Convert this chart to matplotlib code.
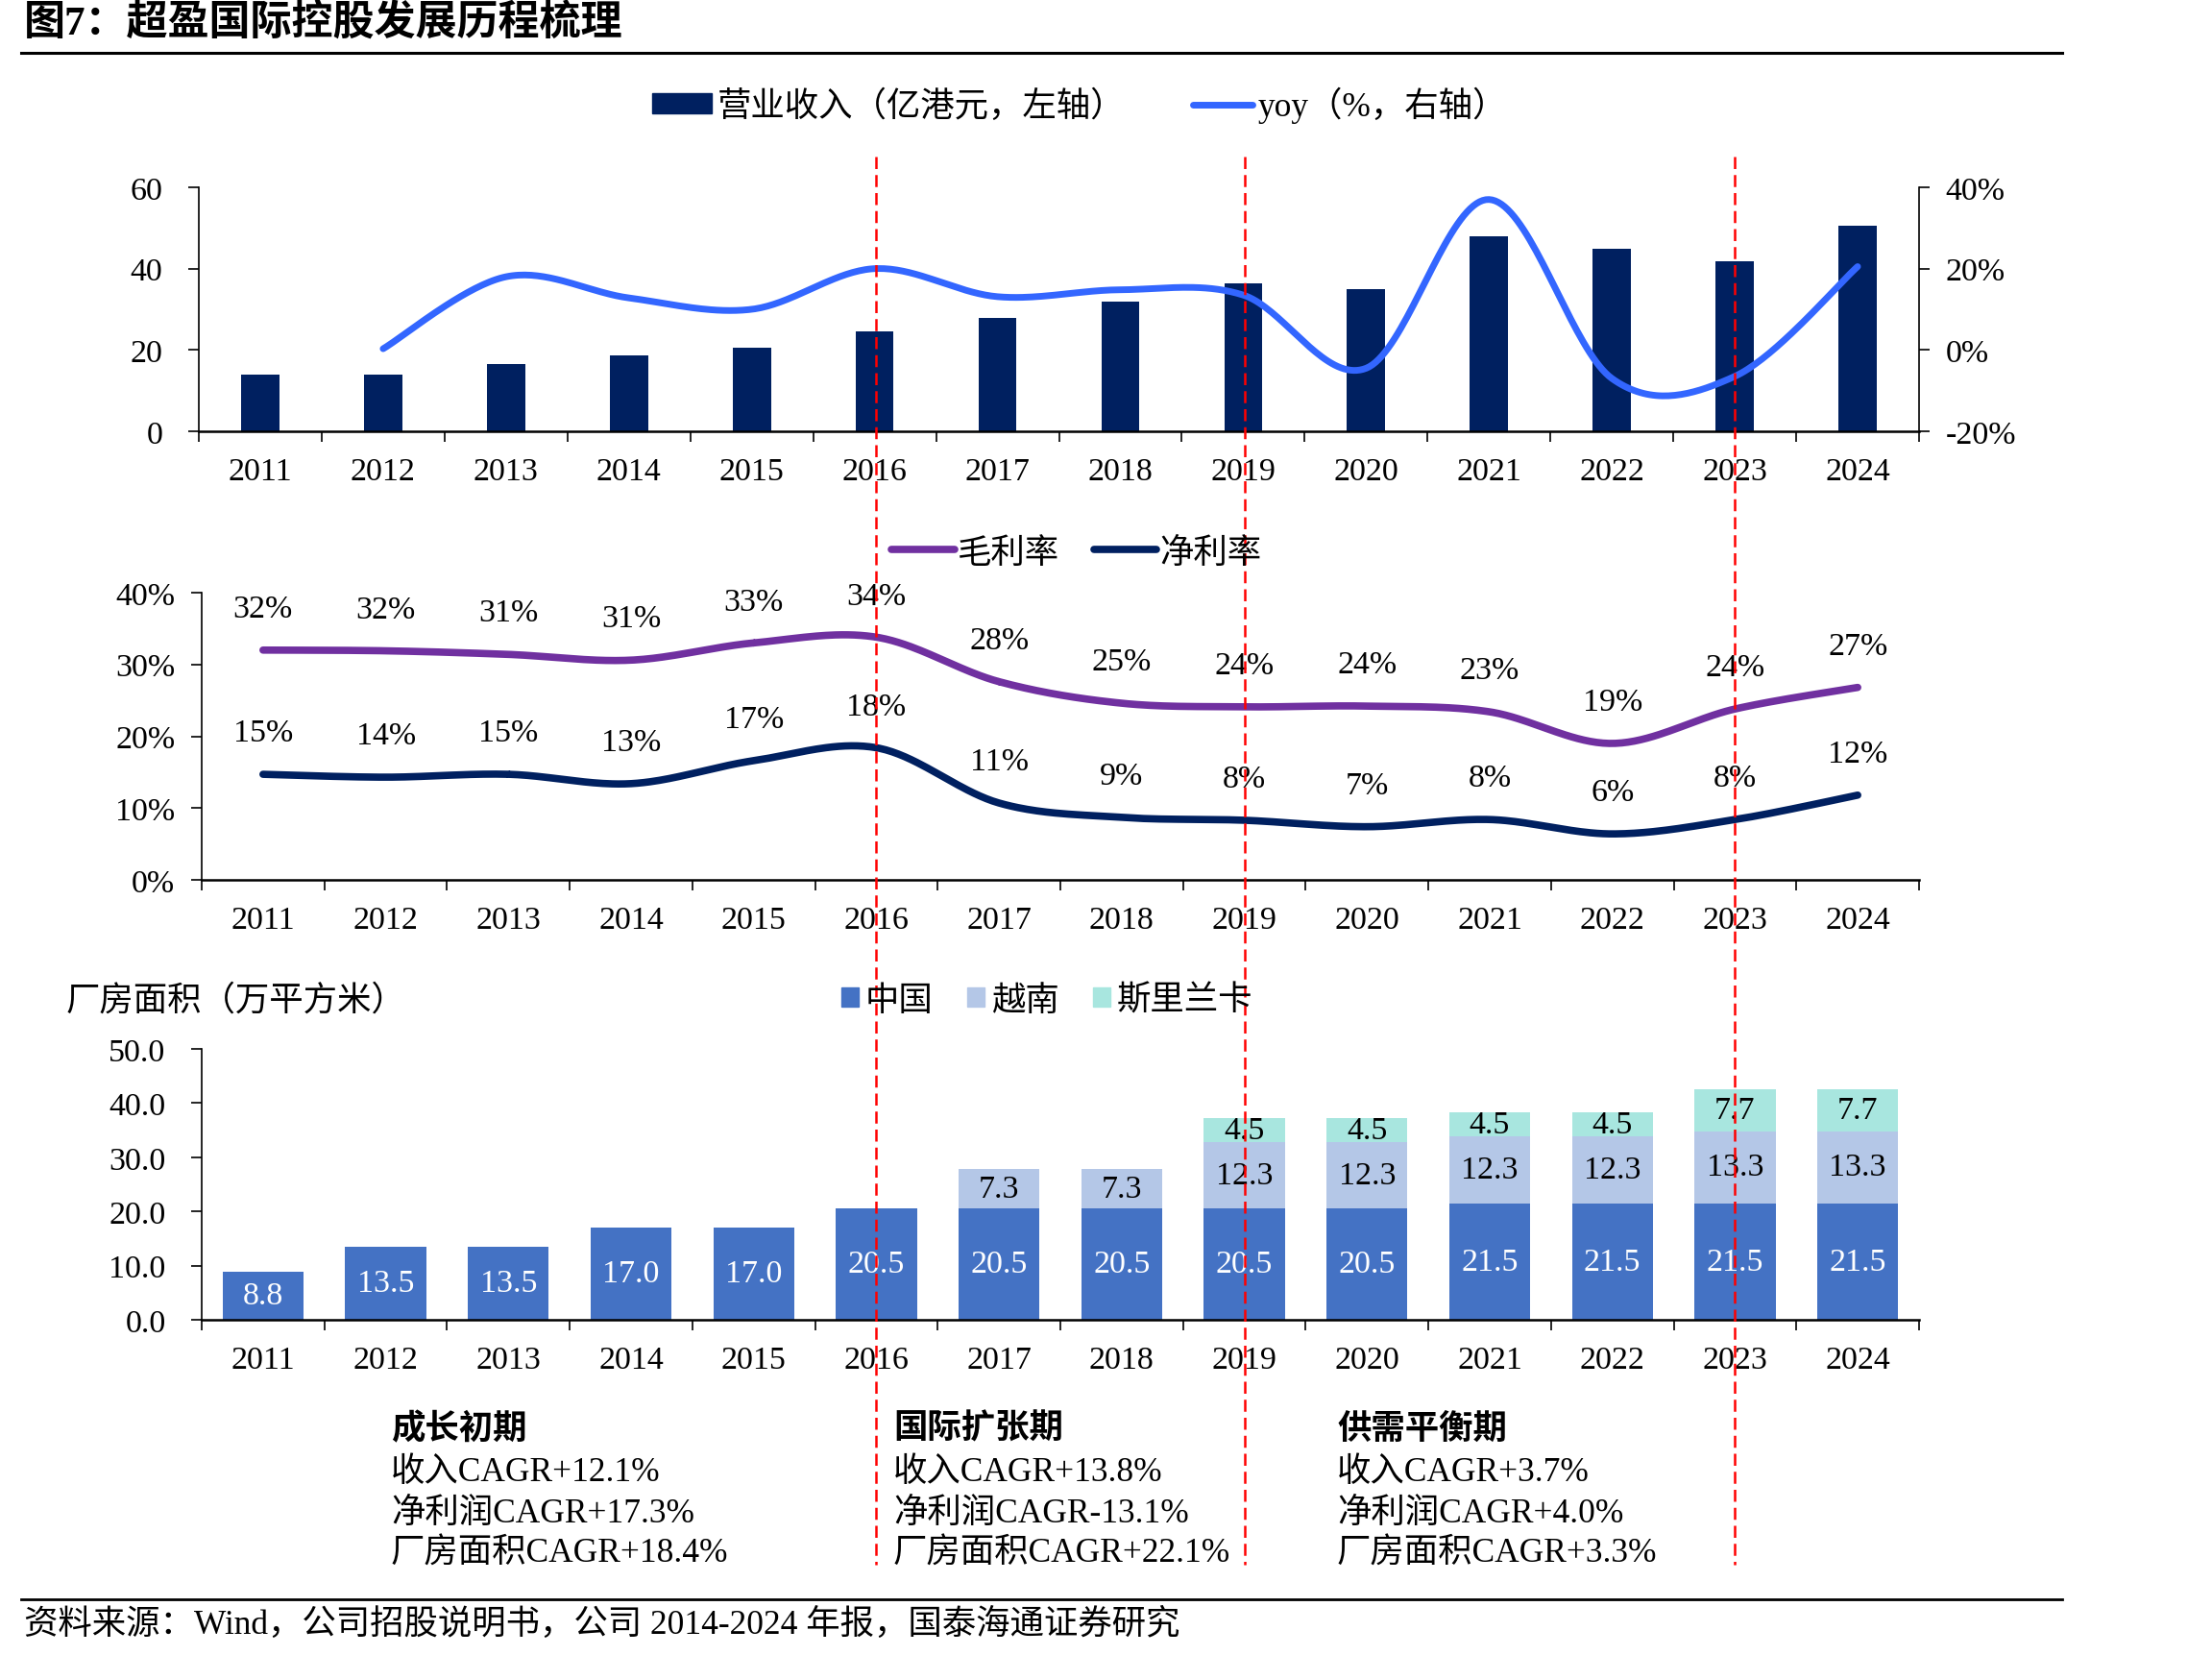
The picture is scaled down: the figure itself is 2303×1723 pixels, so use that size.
import numpy as np
import matplotlib
matplotlib.use('Agg')
import matplotlib.pyplot as plt
import matplotlib.transforms as mtransforms
from matplotlib.lines import Line2D
from matplotlib.patches import Patch

plt.rcParams['font.family'] = ['Liberation Serif', 'Noto Sans CJK SC']
plt.rcParams['axes.unicode_minus'] = False

# data
years = ['2011', '2012', '2013', '2014', '2015', '2016', '2017',
         '2018', '2019', '2020', '2021', '2022', '2023', '2024']
revenue = [14.0, 14.0, 16.5, 18.7, 20.6, 24.6, 27.9, 31.9, 36.3, 34.9, 48.0, 44.8, 41.7, 50.6]
yoy = [np.nan, 0.3, 18.0, 12.8, 10.0, 20.0, 13.1, 14.8, 13.5, -4.5, 37.0, -7.0, -6.5, 20.5]
gross_margin = [32.0, 31.9, 31.4, 30.6, 33.0, 33.8, 27.6, 24.6, 24.1, 24.2, 23.4, 19.0, 23.8, 26.8]
net_margin = [14.7, 14.3, 14.7, 13.4, 16.6, 18.4, 10.7, 8.7, 8.3, 7.4, 8.4, 6.4, 8.4, 11.8]
area_china = [8.8, 13.5, 13.5, 17.0, 17.0, 20.5, 20.5, 20.5, 20.5, 20.5, 21.5, 21.5, 21.5, 21.5]
area_vietnam = [0, 0, 0, 0, 0, 0, 7.3, 7.3, 12.3, 12.3, 12.3, 12.3, 13.3, 13.3]
area_srilanka = [0, 0, 0, 0, 0, 0, 0, 0, 4.5, 4.5, 4.5, 4.5, 7.7, 7.7]
phase_years = ['2016', '2019', '2023']
phases = [
    ['成长初期', '收入CAGR+12.1%', '净利润CAGR+17.3%', '厂房面积CAGR+18.4%'],
    ['国际扩张期', '收入CAGR+13.8%', '净利润CAGR-13.1%', '厂房面积CAGR+22.1%'],
    ['供需平衡期', '收入CAGR+3.7%', '净利润CAGR+4.0%', '厂房面积CAGR+3.3%'],
]

NAVY = '#002060'
BLUE = '#3366FF'
PURPLE = '#7030A0'
C_CHINA = '#4472C4'
C_VN = '#B4C7E7'
C_SL = '#A8E6DF'
FS = 24.5   # numbers
FSC = 25.5  # chinese text

W, H = 2303, 1724


def smooth(xs, ys, n=40):
    # catmull-rom curve through the points, like excel's smoothed line
    xs = np.asarray(xs, float)
    ys = np.asarray(ys, float)
    px, py = [], []
    for i in range(len(xs) - 1):
        x0, y0 = (xs[i - 1], ys[i - 1]) if i > 0 else (xs[i], ys[i])
        x1, y1 = xs[i], ys[i]
        x2, y2 = xs[i + 1], ys[i + 1]
        x3, y3 = (xs[i + 2], ys[i + 2]) if i + 2 < len(xs) else (x2, y2)
        t = np.linspace(0, 1, n)
        for p0, p1, p2, p3, out in ((x0, x1, x2, x3, px), (y0, y1, y2, y3, py)):
            out.extend(0.5 * (2 * p1 + (-p0 + p2) * t
                              + (2 * p0 - 5 * p1 + 4 * p2 - p3) * t ** 2
                              + (-p0 + 3 * p1 - 3 * p2 + p3) * t ** 3))
    return np.array(px), np.array(py)


def style_xaxis(ax):
    x = np.arange(len(years))
    ax.set_xlim(-0.5, len(years) - 0.5)
    ax.set_xticks(x)
    ax.set_xticklabels(years, fontsize=FS)
    ax.set_xticks(np.arange(len(years) + 1) - 0.5, minor=True)
    ax.tick_params(axis='x', which='major', length=0, pad=19)
    ax.tick_params(axis='x', which='minor', length=8, width=1.2, direction='out')
    for s in ['top', 'right']:
        ax.spines[s].set_visible(False)
    ax.spines['bottom'].set_linewidth(1.8)
    ax.spines['left'].set_linewidth(1.2)


fig = plt.figure(figsize=(W / 100, H / 100), dpi=100)
x = np.arange(len(years))

# title and rules
fig.text(25 / W, 1 - 25 / H, '图7：超盈国际控股发展历程梳理', fontsize=31, fontweight='bold',
         va='center', ha='left')
fig.add_artist(Line2D([22 / W, 2147 / W], [1 - 56 / H, 1 - 56 / H], color='black', lw=2.2))
fig.add_artist(Line2D([22 / W, 2147 / W], [1 - 1666 / H, 1 - 1666 / H], color='black', lw=2.0))
fig.text(25 / W, 1 - 1692 / H, '资料来源：Wind，公司招股说明书，公司 2014-2024 年报，国泰海通证券研究',
         fontsize=FSC, va='center', ha='left')

# --- revenue and yoy
ax1 = fig.add_axes([207 / W, 1 - 450 / H, (1998 - 207) / W, (450 - 196) / H])
ax1.bar(x, revenue, width=0.31, color=NAVY, zorder=2)
style_xaxis(ax1)
ax1.set_ylim(0, 60)
ax1.set_yticks([0, 20, 40, 60])
ax1.tick_params(axis='y', labelsize=FS, length=8, width=1.2, pad=19)

ax2 = ax1.twinx()
ok = ~np.isnan(np.array(yoy))
sx, sy = smooth(x[ok], np.array(yoy)[ok])
ax2.plot(sx, sy, color=BLUE, lw=5, solid_capstyle='round')
ax2.set_ylim(-20, 40)
ax2.set_yticks([-20, 0, 20, 40])
ax2.set_yticklabels([f'{v}%' for v in [-20, 0, 20, 40]])
ax2.tick_params(axis='y', labelsize=FS, length=8, width=1.2, pad=12)
for s in ['top', 'left', 'bottom']:
    ax2.spines[s].set_visible(False)
ax2.spines['right'].set_linewidth(1.2)

h1 = [Patch(color=NAVY), Line2D([], [], color=BLUE, lw=5, solid_capstyle='round')]
fig.legend(h1, ['营业收入（亿港元，左轴）', 'yoy（%，右轴）'], loc='center',
           bbox_to_anchor=(1124 / W, 1 - 110 / H), ncol=2, frameon=False, fontsize=FSC,
           handlelength=1.75, handleheight=0.5, handletextpad=0.15, columnspacing=2.0)

# --- margins
ax3 = fig.add_axes([210 / W, 1 - 917 / H, (1998 - 210) / W, (917 - 618) / H])
style_xaxis(ax3)
ax3.set_ylim(0, 40)
ax3.set_yticks([0, 10, 20, 30, 40])
ax3.set_yticklabels([f'{v}%' for v in [0, 10, 20, 30, 40]])
ax3.tick_params(axis='y', labelsize=FS, length=8, width=1.2, pad=12)
for vals, col in ((gross_margin, PURPLE), (net_margin, NAVY)):
    sx, sy = smooth(x, vals)
    ax3.plot(sx, sy, color=col, lw=5.5, solid_capstyle='round')
    for xi, v in zip(x, vals):
        ax3.annotate(f'{v:.0f}%', (xi, v), xytext=(0, 31), textcoords='offset points',
                     ha='center', va='center', fontsize=FS)
h3 = [Line2D([], [], color=PURPLE, lw=5.5, solid_capstyle='round'),
      Line2D([], [], color=NAVY, lw=5.5, solid_capstyle='round')]
fig.legend(h3, ['毛利率', '净利率'], loc='center', bbox_to_anchor=(1121 / W, 1 - 577 / H),
           ncol=2, frameon=False, fontsize=FSC, handlelength=1.85, handletextpad=0.1,
           columnspacing=1.0)

# --- factory area
ax4 = fig.add_axes([210 / W, 1 - 1375 / H, (1998 - 210) / W, (1375 - 1093) / H])
style_xaxis(ax4)
b1 = ax4.bar(x, area_china, width=0.66, color=C_CHINA, zorder=2)
b2 = ax4.bar(x, area_vietnam, width=0.66, bottom=area_china, color=C_VN, zorder=2)
bot = np.array(area_china) + np.array(area_vietnam)
b3 = ax4.bar(x, area_srilanka, width=0.66, bottom=bot, color=C_SL, zorder=2)
for cont, vals, col in ((b1, area_china, 'white'), (b2, area_vietnam, 'black'),
                        (b3, area_srilanka, 'black')):
    ax4.bar_label(cont, labels=[f'{v:.1f}' if v > 0 else '' for v in vals],
                  label_type='center', color=col, fontsize=FS)
ax4.set_ylim(0, 50)
ax4.set_yticks([0, 10, 20, 30, 40, 50])
ax4.set_yticklabels([f'{v:.1f}' for v in [0, 10, 20, 30, 40, 50]])
ax4.tick_params(axis='y', labelsize=FS, length=8, width=1.2, pad=19)
fig.text(69 / W, 1 - 1043 / H, '厂房面积（万平方米）', fontsize=FSC, va='center', ha='left')
fig.legend([Patch(color=C_CHINA), Patch(color=C_VN), Patch(color=C_SL)],
           ['中国', '越南', '斯里兰卡'], loc='center', bbox_to_anchor=(1090 / W, 1 - 1043 / H),
           ncol=3, frameon=False, fontsize=FSC, handlelength=0.5, handleheight=0.5,
           handletextpad=0.2, columnspacing=1.0)

# red dashed phase dividers across all panels
tr = mtransforms.blended_transform_factory(ax4.transData, fig.transFigure)
for yr in phase_years:
    xi = years.index(yr)
    fig.add_artist(Line2D([xi, xi], [1 - 164 / H, 1 - 1630 / H], transform=tr,
                          color='#FF0000', lw=1.8, dashes=(5, 2.5)))

# phase notes
note_x = [407, 930, 1392]
note_y = [1489, 1534, 1576, 1618]
for nx, lines in zip(note_x, phases):
    for i, (ny, txt) in enumerate(zip(note_y, lines)):
        fig.text(nx / W, 1 - ny / H, txt, fontsize=FSC, va='center', ha='left',
                 fontweight='bold' if i == 0 else 'normal')

fig.savefig('out.png', dpi=100)
